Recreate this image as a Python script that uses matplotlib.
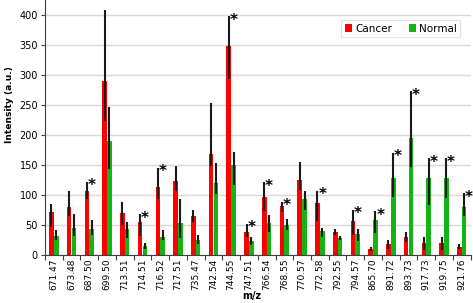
import numpy as np
import matplotlib
matplotlib.use('Agg')
import matplotlib.pyplot as plt
from matplotlib.ticker import FixedLocator

# m/z peaks on the x axis
mz_labels = ['671.47', '673.48', '687.50', '699.50', '713.51', '714.51',
             '716.52', '717.51', '735.47', '742.54', '744.55', '747.51',
             '766.54', '768.55', '770.57', '772.58', '792.55', '794.57',
             '865.70', '891.72', '893.73', '917.73', '919.75', '921.76']

# mean intensities
cancer = [72, 81, 107, 290, 70, 55, 113, 123, 66, 168, 349, 39,
          96, 82, 125, 87, 38, 57, 10, 18, 30, 20, 20, 14]
normal = [32, 45, 43, 190, 44, 15, 31, 53, 26, 120, 150, 23,
          53, 50, 93, 40, 29, 35, 58, 128, 195, 128, 128, 80]

# error bar ends (bottom / top)
cancer_lo = [47, 65, 93, 223, 50, 32, 93, 107, 56, 149, 294, 30,
             74, 72, 108, 57, 33, 33, 7, 10, 22, 9, 9, 10]
cancer_hi = [85, 107, 122, 409, 88, 68, 145, 149, 76, 253, 398, 52,
             121, 89, 155, 107, 43, 76, 13, 26, 38, 31, 31, 18]
normal_lo = [25, 32, 34, 143, 28, 10, 25, 28, 18, 101, 116, 17,
             39, 42, 75, 30, 26, 24, 37, 96, 147, 83, 95, 66]
normal_hi = [42, 68, 58, 246, 55, 20, 42, 93, 34, 154, 172, 30,
             67, 60, 106, 45, 32, 43, 73, 170, 273, 161, 161, 103]

# significant difference marker (1 = asterisk)
significant = [0, 0, 1, 0, 0, 1, 1, 0, 0, 0, 1, 1,
               1, 1, 0, 1, 0, 1, 1, 1, 1, 1, 1, 1]

RED = '#FF0000'
GREEN = '#14B414'


def draw_series(ax, x, vals, lo, hi, color, label):
    """Draw one bar series with asymmetric error bars."""
    vals = np.array(vals, dtype=float)
    err = [vals - np.array(lo), np.array(hi) - vals]
    ax.bar(x, vals, width=0.26, color=color, linewidth=0, label=label, zorder=2)
    ax.errorbar(x, vals, yerr=err, fmt='none', ecolor='#1a1a1a',
                elinewidth=1.5, capsize=0, zorder=3)


def plot_chart():
    n = len(mz_labels)
    idx = np.arange(n)
    xc = idx - 0.135
    xn = idx + 0.135

    fig = plt.figure(figsize=(4.73, 3.03), dpi=100)
    ax = fig.add_axes([0.095, 0.158, 0.9, 0.842])

    draw_series(ax, xc, cancer, cancer_lo, cancer_hi, RED, 'Cancer')
    draw_series(ax, xn, normal, normal_lo, normal_hi, GREEN, 'Normal')

    # asterisks next to the taller whisker of the marked groups
    for i in range(n):
        if not significant[i]:
            continue
        if cancer_hi[i] >= normal_hi[i]:
            bx, top = xc[i], cancer_hi[i]
        else:
            bx, top = xn[i], normal_hi[i]
        ax.annotate('*', xy=(bx, top), xytext=(3.4, -6.0),
                    textcoords='offset points', ha='center', va='baseline',
                    fontsize=11, fontweight='bold', zorder=4)

    ax.set_xlim(-0.5, n - 0.5)
    ax.set_ylim(0, 425)
    ax.set_yticks(np.arange(0, 401, 50))
    ax.grid(axis='y', color='#D9D9D9', linewidth=1.0, zorder=0)
    ax.set_axisbelow(True)

    ax.set_xticks(idx)
    ax.set_xticklabels(mz_labels, rotation=90, fontsize=6.5)
    ax.xaxis.set_minor_locator(FixedLocator(np.arange(n + 1) - 0.5))
    ax.tick_params(axis='x', which='major', length=0, pad=2.5)
    ax.tick_params(axis='x', which='minor', length=3.5, width=0.8, color='#404040')
    ax.tick_params(axis='y', length=3, width=0.8, labelsize=7, color='#404040', pad=2)

    for side in ['top', 'right']:
        ax.spines[side].set_visible(False)
    ax.spines['left'].set_color('#404040')
    ax.spines['bottom'].set_color('#404040')

    ax.set_xlabel('m/z', fontsize=7, fontweight='bold')
    ax.xaxis.set_label_coords(0.486, -0.14)
    ax.set_ylabel('Intensity (a.u.)', fontsize=6.6, fontweight='bold')
    ax.yaxis.set_label_coords(-0.072, 0.59)

    leg = ax.legend(loc='upper right', bbox_to_anchor=(0.975, 0.92), ncol=2,
                    fontsize=7.5, frameon=True, fancybox=False,
                    handlelength=0.7, handleheight=0.7, handletextpad=0.3,
                    columnspacing=1.6, borderpad=0.3, borderaxespad=0)
    leg.get_frame().set_edgecolor('#D9D9D9')
    leg.get_frame().set_linewidth(0.8)

    fig.savefig('out.png', dpi=100)
    plt.close(fig)


def main():
    plot_chart()


if __name__ == "__main__":
    main()
